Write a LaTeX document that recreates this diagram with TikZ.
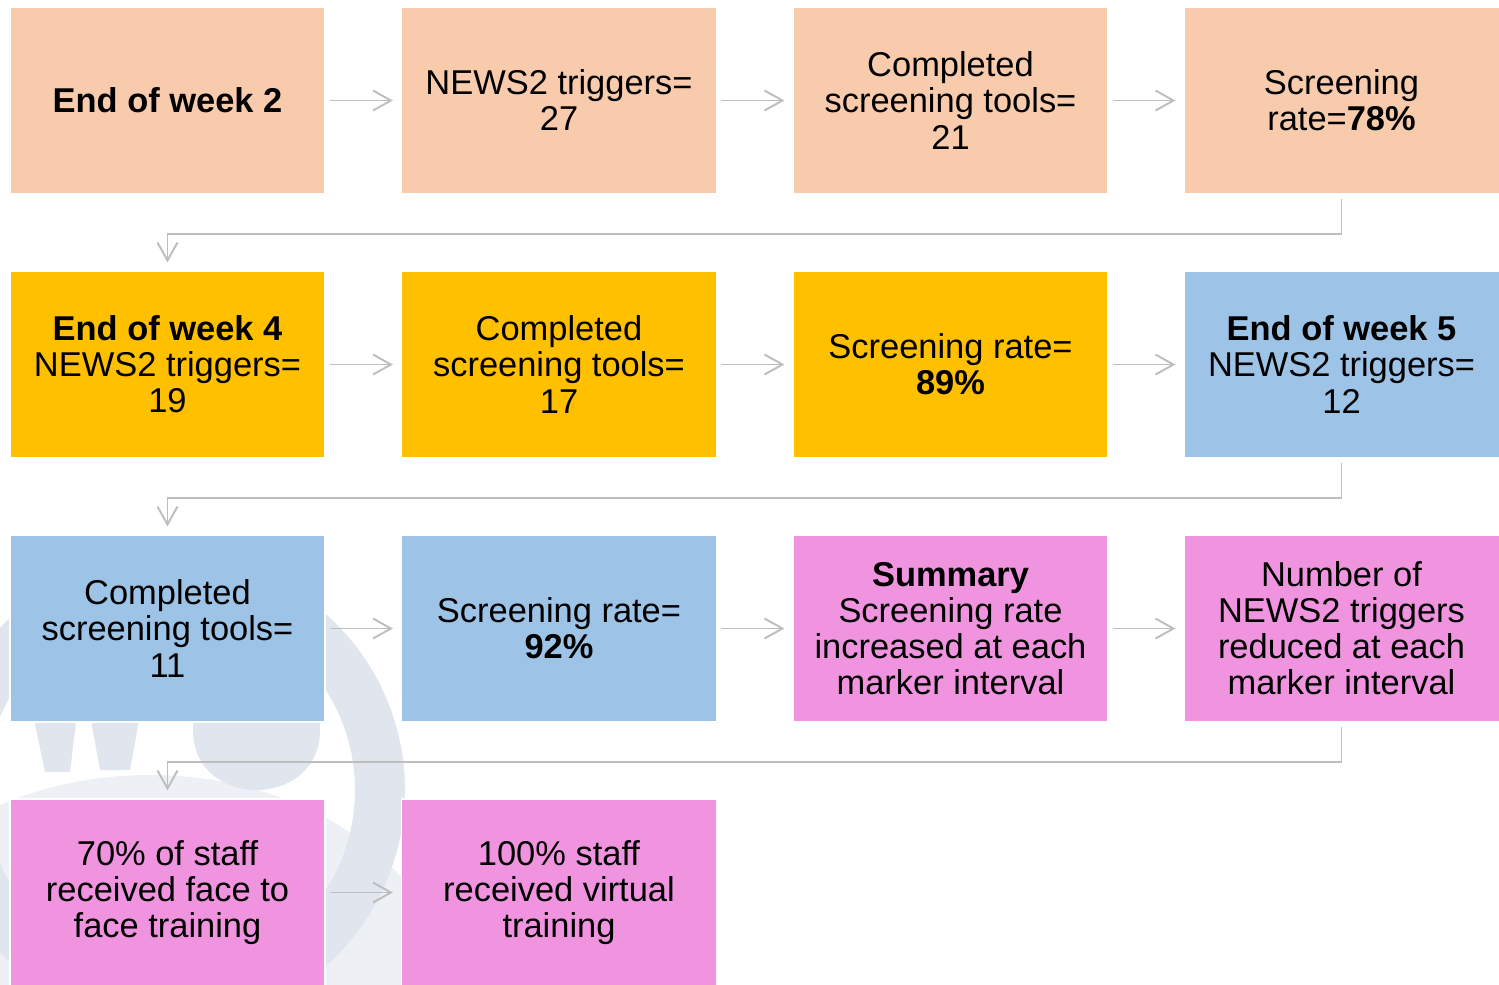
\documentclass[tikz,border=0pt]{standalone}
\usepackage{fontspec}
\setmainfont{Liberation Sans}
\usetikzlibrary{arrows.meta}
\definecolor{peach}{RGB}{248,203,173}
\definecolor{gold}{RGB}{255,192,0}
\definecolor{skyblue}{RGB}{157,195,230}
\definecolor{orchid}{RGB}{241,148,224}
\definecolor{linegray}{RGB}{190,190,190}
\definecolor{wmark}{RGB}{225,230,238}

\tikzset{
  box/.style={minimum width=3.15cm, minimum height=1.87cm, inner sep=0pt,
    align=center, draw=white, line width=0.3pt,
    font=\fontsize{9.8}{10.25}\selectfont},
  link/.style={draw=linegray, line width=0.55pt, shorten <=0.4mm, shorten >=0.8mm,
    -{Straight Barb[length=1.8mm,width=2mm]}},
}

\begin{document}
\begin{tikzpicture}
  \useasboundingbox (0,0) rectangle (14.99,-9.84);
  % Faint logo in the background
  \begin{scope}
    \clip (0,0) rectangle (14.99,-9.84);
    \fill[wmark!60!white] (1.5,-10.0) ellipse (3.0 and 2.25);
    \draw[wmark, line width=0.5cm] (1.7,-7.9) circle (2.1);
    \fill[wmark] (0.33,-7.15) -- (0.77,-7.15) -- (0.70,-7.72) -- (0.45,-7.72) -- cycle;
    \fill[wmark] (0.90,-7.15) -- (1.40,-7.15) -- (1.30,-7.70) -- (1.00,-7.70) -- cycle;
    \fill[wmark] (1.93,-7.1) -- (1.93,-7.3) .. controls (1.93,-8.1) and (3.2,-8.1) .. (3.2,-7.3) -- (3.2,-7.1) -- cycle;
  \end{scope}
  % Row 1: week 2
  \node[box, fill=peach] (wk2) at (1.675,-1.005) {\textbf{End of week 2}};
  \node[box, fill=peach] (trig2) at (5.59,-1.005) {NEWS2 triggers=\\27};
  \node[box, fill=peach] (tools2) at (9.505,-1.005) {Completed\\screening tools=\\21};
  \node[box, fill=peach] (rate2) at (13.415,-1.005) {Screening\\rate=\textbf{78\%}};
  % Row 2: week 4 and start of week 5
  \node[box, fill=gold] (wk4) at (1.675,-3.645) {\textbf{End of week 4}\\NEWS2 triggers=\\19};
  \node[box, fill=gold] (tools4) at (5.59,-3.645) {Completed\\screening tools=\\17};
  \node[box, fill=gold] (rate4) at (9.505,-3.645) {Screening rate=\\\textbf{89\%}};
  \node[box, fill=skyblue] (wk5) at (13.415,-3.645) {\textbf{End of week 5}\\NEWS2 triggers=\\12};
  % Row 3: week 5 and summary
  \node[box, fill=skyblue] (tools5) at (1.675,-6.285) {Completed\\screening tools=\\11};
  \node[box, fill=skyblue] (rate5) at (5.59,-6.285) {Screening rate=\\\textbf{92\%}};
  \node[box, fill=orchid] (summary) at (9.505,-6.285) {\textbf{Summary}\\Screening rate\\increased at each\\marker interval};
  \node[box, fill=orchid] (triggers) at (13.415,-6.285) {Number of\\NEWS2 triggers\\reduced at each\\marker interval};
  % Row 4: training
  \node[box, fill=orchid] (face) at (1.675,-8.925) {70\% of staff\\received face to\\face training};
  \node[box, fill=orchid] (virtual) at (5.59,-8.925) {100\% staff\\received virtual\\training};
  % Arrows along the rows
  \draw[link] (wk2) -- (trig2);
  \draw[link] (trig2) -- (tools2);
  \draw[link] (tools2) -- (rate2);
  \draw[link] (wk4) -- (tools4);
  \draw[link] (tools4) -- (rate4);
  \draw[link] (rate4) -- (wk5);
  \draw[link] (tools5) -- (rate5);
  \draw[link] (rate5) -- (summary);
  \draw[link] (summary) -- (triggers);
  \draw[link] (face) -- (virtual);
  % Arrows back to the next row
  \draw[link] (rate2.south) -- ++(0,-0.39) -| (wk4.north);
  \draw[link] (wk5.south) -- ++(0,-0.39) -| (tools5.north);
  \draw[link] (triggers.south) -- ++(0,-0.39) -| (face.north);
\end{tikzpicture}
\end{document}
